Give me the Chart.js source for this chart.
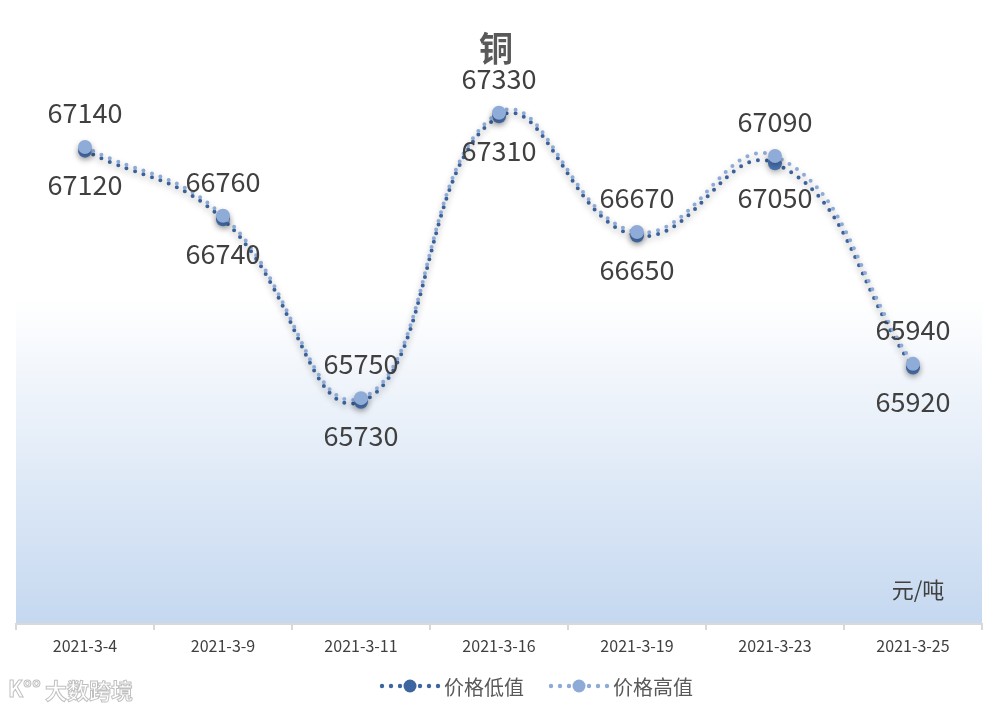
<!DOCTYPE html>
<html>
<head>
<meta charset="utf-8">
<script src="https://cdn.jsdelivr.net/npm/chart.js@4.4.1/dist/chart.umd.min.js"></script>
<style>
    html, body { margin: 0; padding: 0; background: #fff; }
    #wrap { width: 994px; height: 711px; }
</style>
</head>
<body>
<div id="wrap"><canvas id="my-chart" width="994" height="711"></canvas></div>
<script>
var dates = ["2021-3-4", "2021-3-9", "2021-3-11", "2021-3-16", "2021-3-19", "2021-3-23", "2021-3-25"];
var lowPrices = [67120, 66740, 65730, 67310, 66650, 67050, 65920];
var highPrices = [67140, 66760, 65750, 67330, 66670, 67090, 65940];
var seriesNames = ["价格低值", "价格高值"];
var chartTitle = "铜";
var unitLabel = "元/吨";

var lowColor = "#3d659f";
var highColor = "#8eaad6";
var textFont = "'Noto Sans CJK SC', 'Noto Sans', sans-serif";

// plot area background: white on top, fading to light blue at the bottom
var backgroundPlugin = {
    id: "plotBackground",
    beforeDraw: function (chart) {
        var ctx = chart.ctx, a = chart.chartArea;
        var g = ctx.createLinearGradient(0, a.top, 0, a.bottom);
        g.addColorStop(0, "#ffffff");
        g.addColorStop(0.4, "#ffffff");
        g.addColorStop(1, "#c5d8f0");
        ctx.save();
        ctx.fillStyle = g;
        ctx.fillRect(a.left, a.top, a.right - a.left, a.bottom - a.top);
        ctx.restore();
    }
};

var shadowPlugin = {
    id: "lineShadow",
    beforeDatasetDraw: function (chart) {
        var ctx = chart.ctx;
        ctx.save();
        ctx.shadowColor = "rgba(0,0,0,0.28)";
        ctx.shadowBlur = 6;
        ctx.shadowOffsetY = 3;
    },
    afterDatasetDraw: function (chart) {
        chart.ctx.restore();
    }
};

var labelsPlugin = {
    id: "valueLabels",
    afterDatasetsDraw: function (chart) {
        var ctx = chart.ctx;
        ctx.save();
        ctx.font = "27px " + textFont;
        ctx.fillStyle = "#404040";
        ctx.textAlign = "center";
        ctx.textBaseline = "middle";
        chart.data.datasets.forEach(function (ds, di) {
            var meta = chart.getDatasetMeta(di);
            meta.data.forEach(function (pt, i) {
                var dy = ds.labelSide === "above" ? -34 : 34;
                ctx.fillText(String(ds.data[i]), pt.x, pt.y + dy);
            });
        });
        ctx.restore();
    }
};

function drawLegendItem(ctx, x, y, color, text) {
    ctx.fillStyle = color;
    var dots = [0, 9, 18, 38, 47, 56];
    for (var i = 0; i < dots.length; i++) {
        ctx.beginPath();
        ctx.arc(x + dots[i], y, 2.2, 0, Math.PI * 2);
        ctx.fill();
    }
    ctx.beginPath();
    ctx.arc(x + 28, y, 6.5, 0, Math.PI * 2);
    ctx.fill();
    ctx.fillStyle = "#595959";
    ctx.textAlign = "left";
    ctx.fillText(text, x + 62, y + 1);
}

var decorPlugin = {
    id: "decor",
    afterDraw: function (chart) {
        var ctx = chart.ctx;
        ctx.save();
        ctx.textBaseline = "middle";
        ctx.textAlign = "center";
        ctx.fillStyle = "#595959";
        ctx.font = "bold 34px " + textFont;
        ctx.fillText(chartTitle, 496, 48);

        ctx.fillStyle = "#404040";
        ctx.font = "22px " + textFont;
        ctx.fillText(unitLabel, 918, 590);

        ctx.font = "20px " + textFont;
        drawLegendItem(ctx, 382, 686, lowColor, seriesNames[0]);
        drawLegendItem(ctx, 551, 686, highColor, seriesNames[1]);

        // watermark
        ctx.font = "bold 22px " + textFont;
        ctx.textAlign = "left";
        ctx.lineWidth = 1;
        ctx.strokeStyle = "rgba(150,150,150,0.6)";
        ctx.fillStyle = "rgba(255,255,255,0.9)";
        ctx.fillText("大数跨境", 45, 691);
        ctx.strokeText("大数跨境", 45, 691);
        ctx.fillText("K°°", 8, 689);
        ctx.strokeText("K°°", 8, 689);
        ctx.restore();
    }
};

var config = {
    type: "line",
    data: {
        labels: dates,
        datasets: [{
            label: seriesNames[0],
            data: lowPrices,
            labelSide: "below",
            order: 1,
            borderColor: lowColor,
            backgroundColor: "#4b74b2",
            borderWidth: 4,
            borderDash: [0, 9],
            borderCapStyle: "round",
            tension: 0.45,
            pointRadius: 7,
            pointBorderWidth: 0,
            fill: false
        }, {
            label: seriesNames[1],
            data: highPrices,
            labelSide: "above",
            order: 0,
            borderColor: highColor,
            backgroundColor: "#8fabd8",
            borderWidth: 4,
            borderDash: [0, 9],
            borderCapStyle: "round",
            tension: 0.45,
            pointRadius: 7,
            pointBorderWidth: 0,
            fill: false
        }]
    },
    options: {
        responsive: false,
        animation: false,
        layout: { padding: { left: 16, right: 12, top: 82, bottom: 0 } },
        plugins: {
            legend: { display: false },
            title: { display: false },
            tooltip: { enabled: false }
        },
        scales: {
            x: {
                offset: true,
                grid: {
                    offset: true,
                    drawOnChartArea: false,
                    drawTicks: true,
                    tickLength: 6,
                    color: "#d9d9d9",
                    lineWidth: 2
                },
                border: { display: true, color: "#d9d9d9", width: 2 },
                ticks: {
                    color: "#404040",
                    font: { size: 16, family: textFont },
                    padding: 6,
                    maxRotation: 0
                },
                afterFit: function (scale) { scale.height = 87; }
            },
            y: {
                display: false,
                min: 64500,
                max: 67500
            }
        }
    },
    plugins: [backgroundPlugin, shadowPlugin, labelsPlugin, decorPlugin]
};

var ctx = document.getElementById("my-chart").getContext("2d");
var priceChart = new Chart(ctx, config);
</script>
</body>
</html>
